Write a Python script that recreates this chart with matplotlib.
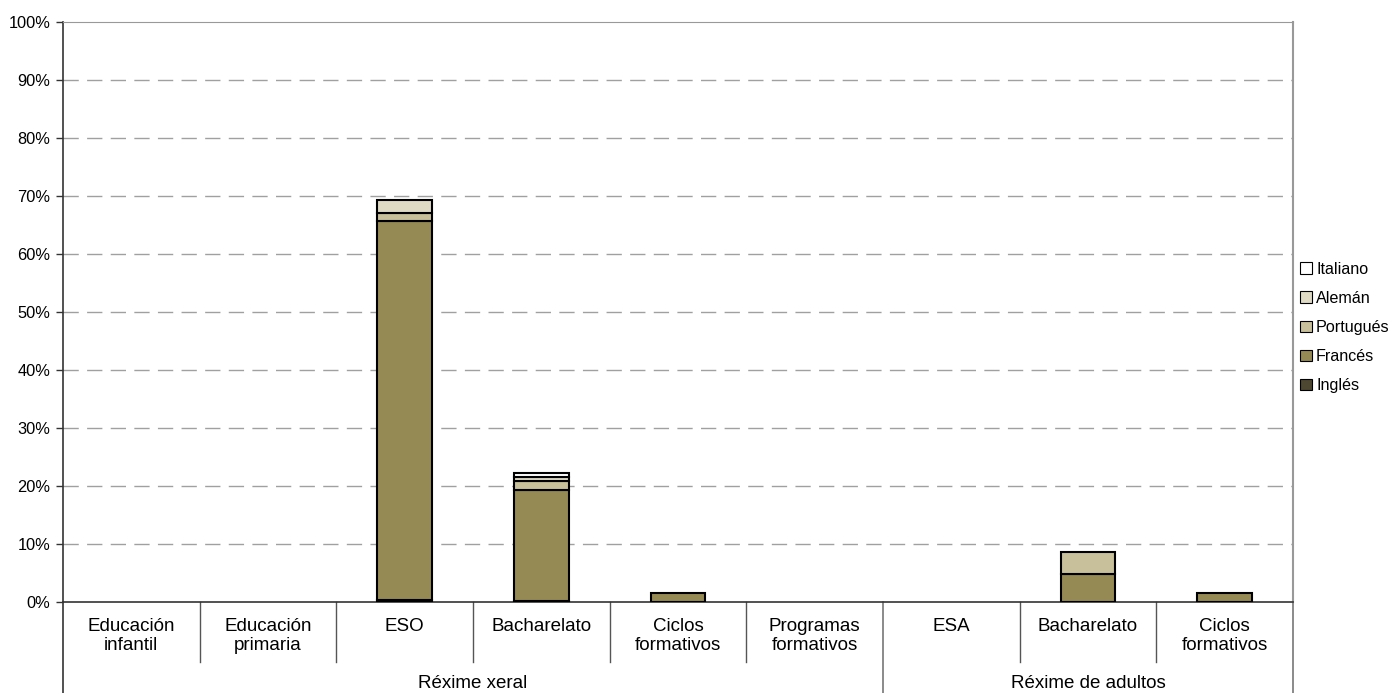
import numpy as np
import matplotlib.pyplot as plt
from matplotlib.patches import Patch
from matplotlib.ticker import FuncFormatter

plt.rcParams['font.family'] = ['Liberation Sans', 'DejaVu Sans']

# datos (porcentaje)
categorias = ['Educación\ninfantil', 'Educación\nprimaria', 'ESO', 'Bacharelato',
              'Ciclos\nformativos', 'Programas\nformativos', 'ESA', 'Bacharelato',
              'Ciclos\nformativos']
grupos = ['Réxime xeral', 'Réxime de adultos']
n_grupo = [6, 3]

ingles = [0, 0, 0.4, 0.2, 0, 0, 0, 0, 0]
frances = [0, 0, 65.3, 19.1, 1.5, 0, 0, 4.8, 1.5]
portugues = [0, 0, 1.4, 1.6, 0, 0, 0, 3.8, 0]
aleman = [0, 0, 2.2, 0.7, 0, 0, 0, 0, 0]
italiano = [0, 0, 0, 0.6, 0, 0, 0, 0, 0]

series = [('Inglés', ingles, '#4d4630'),
          ('Francés', frances, '#968a54'),
          ('Portugués', portugues, '#c8c09a'),
          ('Alemán', aleman, '#dedac4'),
          ('Italiano', italiano, '#ffffff')]

fig = plt.figure(figsize=(13.95, 6.93), dpi=100)
ax = fig.add_axes([63/1395, 91/693, 1230/1395, 580/693])

x = np.arange(len(categorias)) + 0.5
base = np.zeros(len(categorias))
for nombre, vals, color in series:
    v = np.array(vals, dtype=float)
    m = v > 0
    ax.bar(x[m], v[m], width=0.4, bottom=base[m], color=color,
           edgecolor='black', linewidth=1.5, zorder=3)
    base += v

ax.set_xlim(0, len(categorias))
ax.set_ylim(0, 100)
ax.set_yticks(np.arange(0, 101, 10))
ax.yaxis.set_major_formatter(FuncFormatter(lambda v, p: f'{int(v)}%'))
ax.tick_params(axis='y', length=5, width=1, color='#333333', pad=4, labelsize=11.8)
ax.set_xticks([])

for yv in range(10, 100, 10):
    ax.axhline(yv, color='#a0a0a0', linewidth=1, linestyle=(0, (11, 6)), zorder=1)

ax.spines['top'].set_color('#999999')
ax.spines['right'].set_color('#999999')
ax.spines['right'].set_linewidth(1.5)
ax.spines['left'].set_color('#333333')
ax.spines['bottom'].set_color('#333333')
ax.spines['left'].set_linewidth(1.2)
ax.spines['bottom'].set_linewidth(1.2)

# etiquetas de categorias
for xi, c in zip(x, categorias):
    ax.text(xi, -0.028, c, transform=ax.get_xaxis_transform(), ha='center',
            va='top', fontsize=13.5, linespacing=1.15)

# separadores
trans = ax.get_xaxis_transform()
limites = np.cumsum([0] + n_grupo)
for i in range(1, len(categorias)):
    if i in limites:
        continue
    ax.plot([i, i], [0, -0.104], transform=trans, color='#555555',
            linewidth=1, clip_on=False)
for i in limites:
    col = '#333333' if i == 0 else '#777777'
    ax.plot([i, i], [0, -0.157], transform=trans, color=col,
            linewidth=1.2, clip_on=False)

for g, a, b in zip(grupos, limites[:-1], limites[1:]):
    ax.text((a + b) / 2, -0.1397, g, transform=trans, ha='center',
            va='center', fontsize=13.5)

handles = [Patch(facecolor=c, edgecolor='black', linewidth=0.8, label=n)
           for n, v, c in series][::-1]
fig.legend(handles=handles, loc='upper left', bbox_to_anchor=(1300/1395, 1 - 262/693),
           frameon=False, fontsize=11.6, handlelength=0.75, handleheight=0.75,
           handletextpad=0.25, labelspacing=0.87, borderpad=0, borderaxespad=0)

fig.savefig('out.png', dpi=100)
